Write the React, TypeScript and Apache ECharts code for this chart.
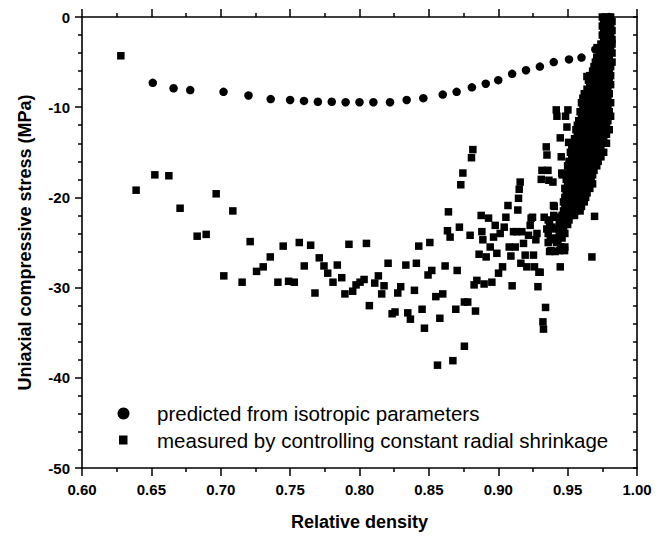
import React, { useEffect, useRef } from "react";
import * as echarts from "echarts";

// Predicted from isotropic parameters (relative density, stress MPa)
const predicted: number[][] = [
  [0.651, -7.3], [0.666, -7.9], [0.678, -8.1], [0.702, -8.3], [0.720, -8.7],
  [0.736, -9.1], [0.750, -9.2], [0.760, -9.3], [0.770, -9.4], [0.780, -9.4],
  [0.790, -9.45], [0.800, -9.45], [0.810, -9.45], [0.822, -9.45], [0.834, -9.2],
  [0.846, -9.0], [0.860, -8.6], [0.870, -8.3], [0.881, -7.8], [0.891, -7.4],
  [0.900, -7.0], [0.910, -6.3], [0.920, -5.9], [0.930, -5.5], [0.940, -5.0],
  [0.951, -4.7], [0.960, -4.5], [0.970, -3.6], [0.977, -1.8], [0.980, 0],
];

// Measured by controlling constant radial shrinkage: scattered points
const measuredScatter: number[][] = [
  [0.628, -4.3], [0.639, -19.2], [0.6525, -17.5], [0.6626, -17.6], [0.6707, -21.2],
  [0.6967, -19.6], [0.683, -24.3], [0.6895, -24.1], [0.7087, -21.5], [0.7022, -28.7],
  [0.7154, -29.4], [0.7212, -24.9], [0.7258, -28.2], [0.7306, -27.7], [0.7357, -26.6],
  [0.7412, -29.4], [0.745, -25.4], [0.7489, -29.3], [0.753, -29.4], [0.7566, -25.0],
  [0.7602, -27.6], [0.7648, -25.3], [0.7679, -30.6], [0.771, -26.7], [0.7744, -27.6],
  [0.7771, -28.4], [0.7809, -29.4], [0.784, -27.5], [0.7872, -28.9], [0.7895, -30.7],
  [0.7924, -25.2], [0.7951, -30.4], [0.7975, -29.7], [0.8004, -29.4], [0.8033, -29.1],
  [0.805, -25.1], [0.8071, -32.0], [0.811, -29.5], [0.8136, -28.7], [0.816, -30.7],
  [0.8177, -29.8], [0.8206, -27.3], [0.8235, -32.9], [0.8256, -32.7], [0.8276, -30.6],
  [0.8297, -29.9], [0.8334, -27.5], [0.8348, -32.8], [0.8367, -33.5], [0.8396, -30.3],
  [0.841, -27.3], [0.8427, -25.4], [0.8451, -32.4], [0.8468, -34.5], [0.8494, -28.6],
  [0.8507, -25.0], [0.8521, -28.1], [0.855, -31.0], [0.8562, -38.6], [0.8579, -33.4],
  [0.86, -30.7], [0.8617, -27.6], [0.8634, -23.7], [0.8641, -21.6], [0.8653, -24.4],
  [0.8673, -38.1], [0.8694, -32.4], [0.8704, -28.1], [0.872, -23.3], [0.873, -18.6],
  [0.8745, -17.3], [0.8756, -36.5], [0.8756, -31.6], [0.878, -31.6], [0.8797, -24.2],
  [0.8807, -15.6], [0.8817, -14.7], [0.8826, -29.7], [0.8836, -32.6], [0.8846, -29.2],
  [0.8862, -26.3], [0.8877, -22.0], [0.8882, -23.8], [0.8889, -24.7], [0.8898, -29.6],
  [0.8913, -26.6], [0.893, -22.3], [0.8942, -25.5], [0.8954, -29.4], [0.8966, -24.4],
  [0.8978, -23.1], [0.899, -26.2], [0.9002, -28.4], [0.9014, -24.0], [0.9031, -27.7],
  [0.9043, -23.3], [0.9055, -22.2], [0.907, -20.9], [0.9079, -25.5], [0.9091, -26.5],
  [0.91, -29.8], [0.911, -23.8], [0.9122, -25.5], [0.9134, -23.8], [0.9141, -21.4],
  [0.9146, -20.1], [0.9151, -19.1], [0.9158, -18.3], [0.9163, -27.3], [0.917, -23.8],
  [0.9182, -25.1], [0.9194, -26.4], [0.9206, -27.7], [0.9218, -24.2], [0.923, -23.1],
  [0.9237, -22.3], [0.9247, -22.2], [0.9254, -26.4], [0.9261, -27.7], [0.9271, -24.7],
  [0.9279, -24.0], [0.9286, -29.9], [0.9293, -28.3], [0.9302, -28.3], [0.931, -18.0],
  [0.9315, -17.0], [0.9322, -33.8], [0.9326, -34.6], [0.9331, -22.2], [0.9341, -32.2],
  [0.9346, -14.4], [0.9351, -15.3], [0.9358, -17.0], [0.9365, -18.1], [0.9375, -24.7],
  [0.938, -25.9], [0.9387, -23.3], [0.9394, -18.3], [0.9398, -20.9], [0.9404, -21.0],
  [0.9411, -22.2], [0.9418, -10.3], [0.9423, -11.0], [0.943, -24.7], [0.944, -25.9],
  [0.9447, -27.7], [0.9447, -13.4], [0.9454, -15.5], [0.9458, -17.3], [0.9461, -17.5],
  [0.9471, -23.3], [0.9478, -25.9], [0.9485, -11.0], [0.9495, -12.2], [0.9502, -10.3],
  [0.9507, -13.9], [0.9639, -6.6], [0.9663, -7.0], [0.9712, -3.4], [0.9675, -26.6],
  [0.9694, -22.1],
];

// Measured: dense column near full density, read row by row as [stress, density, density, ...]
const measuredBand: number[][] = [
  [0, 0.975, 0.978, 0.981],
  [-0.5, 0.976, 0.979, 0.982],
  [-1, 0.975, 0.978, 0.981],
  [-1.5, 0.976, 0.979, 0.982],
  [-2, 0.975, 0.978, 0.981],
  [-2.5, 0.976, 0.979, 0.982],
  [-3, 0.974, 0.977, 0.980, 0.982],
  [-3.5, 0.972, 0.975, 0.978, 0.981],
  [-4, 0.973, 0.976, 0.979, 0.982],
  [-4.5, 0.971, 0.974, 0.977, 0.980],
  [-5, 0.970, 0.973, 0.976, 0.979, 0.982],
  [-5.5, 0.969, 0.972, 0.975, 0.978, 0.981],
  [-6, 0.968, 0.971, 0.974, 0.977, 0.980],
  [-6.5, 0.966, 0.969, 0.972, 0.975, 0.978, 0.981],
  [-7, 0.965, 0.968, 0.971, 0.974, 0.977, 0.980],
  [-7.5, 0.966, 0.969, 0.972, 0.975, 0.978, 0.981],
  [-8, 0.964, 0.967, 0.970, 0.973, 0.976, 0.979],
  [-8.5, 0.962, 0.965, 0.968, 0.971, 0.974, 0.977, 0.980],
  [-9, 0.961, 0.964, 0.967, 0.970, 0.973, 0.976, 0.979],
  [-9.5, 0.960, 0.963, 0.966, 0.969, 0.972, 0.975, 0.978, 0.981],
  [-10, 0.961, 0.964, 0.967, 0.970, 0.973, 0.976, 0.979],
  [-10.5, 0.959, 0.962, 0.965, 0.968, 0.971, 0.974, 0.977, 0.980],
  [-11, 0.960, 0.963, 0.966, 0.969, 0.972, 0.975, 0.978, 0.981],
  [-11.5, 0.958, 0.961, 0.964, 0.967, 0.970, 0.973, 0.976, 0.979],
  [-12, 0.957, 0.960, 0.963, 0.966, 0.969, 0.972, 0.975, 0.978],
  [-12.5, 0.956, 0.959, 0.962, 0.965, 0.968, 0.971, 0.974, 0.977, 0.980],
  [-13, 0.957, 0.960, 0.963, 0.966, 0.969, 0.972, 0.975, 0.978],
  [-13.5, 0.955, 0.958, 0.961, 0.964, 0.967, 0.970, 0.973, 0.976],
  [-14, 0.954, 0.957, 0.960, 0.963, 0.966, 0.969, 0.972, 0.975, 0.978],
  [-14.5, 0.953, 0.956, 0.959, 0.962, 0.965, 0.968, 0.971, 0.974],
  [-15, 0.952, 0.955, 0.958, 0.961, 0.964, 0.967, 0.970, 0.973, 0.976],
  [-15.5, 0.953, 0.956, 0.959, 0.962, 0.965, 0.968, 0.971, 0.974],
  [-16, 0.951, 0.954, 0.957, 0.960, 0.963, 0.966, 0.969, 0.972],
  [-16.5, 0.950, 0.953, 0.956, 0.959, 0.962, 0.965, 0.968, 0.971],
  [-17, 0.951, 0.954, 0.957, 0.960, 0.963, 0.966, 0.969],
  [-17.5, 0.950, 0.953, 0.956, 0.959, 0.962, 0.965, 0.968],
  [-18, 0.949, 0.952, 0.955, 0.958, 0.961, 0.964, 0.967],
  [-18.5, 0.950, 0.953, 0.956, 0.959, 0.962, 0.965, 0.968],
  [-19, 0.948, 0.951, 0.954, 0.957, 0.960, 0.963, 0.966],
  [-19.5, 0.949, 0.952, 0.955, 0.958, 0.961, 0.964],
  [-20, 0.948, 0.951, 0.954, 0.957, 0.960, 0.963],
  [-20.5, 0.947, 0.950, 0.953, 0.956, 0.959, 0.962],
  [-21, 0.948, 0.951, 0.954, 0.957, 0.960],
  [-21.5, 0.947, 0.950, 0.953, 0.956, 0.959],
  [-22, 0.940, 0.946, 0.949, 0.952, 0.955],
  [-22.5, 0.936, 0.945, 0.948, 0.951],
  [-23, 0.937, 0.944, 0.947, 0.950],
  [-23.5, 0.935, 0.941, 0.946],
  [-24, 0.936, 0.944, 0.948],
  [-24.5, 0.940, 0.946],
  [-25, 0.936, 0.942],
  [-25.5, 0.945, 0.948],
  [-26, 0.937, 0.941],
];

const xTicks = { min: 0.6, max: 1.0, interval: 0.05 };
const yTicks = { min: -50, max: 0, interval: 10 };

const legendLabels = [
  "predicted from isotropic parameters",
  "measured by controlling constant radial shrinkage",
];

const FONT = '"Liberation Sans", Arial, Helvetica, sans-serif';
const GRID = { left: 82, right: 26, top: 17, bottom: 68 };

function lineAxis() {
  return { show: true, onZero: false, lineStyle: { color: "#000000", width: 1.6 } };
}
function ticks(inside: boolean, length: number) {
  return { show: true, inside, length, lineStyle: { color: "#000000", width: 1.5 } };
}
function minor(split: number, length: number) {
  return { show: true, splitNumber: split, length, lineStyle: { color: "#000000", width: 1.5 } };
}

// Frame-only axes (lines and ticks), shared by the overlay instance
function frameAxes() {
  return {
    xAxis: [
      { type: "value", position: "bottom", ...xTicks, axisLine: lineAxis(), axisTick: ticks(false, 8), minorTick: minor(2, 4), splitLine: { show: false }, axisLabel: { show: false } },
      { type: "value", position: "top", ...xTicks, axisLine: lineAxis(), axisTick: ticks(false, 8), minorTick: minor(2, 4), splitLine: { show: false }, axisLabel: { show: false } },
    ],
    yAxis: [
      { type: "value", position: "left", ...yTicks, axisLine: lineAxis(), axisTick: ticks(false, 7), minorTick: minor(5, 4), splitLine: { show: false }, axisLabel: { show: false } },
      { type: "value", position: "right", ...yTicks, axisLine: lineAxis(), axisTick: ticks(true, 4), minorTick: minor(5, 4), splitLine: { show: false }, axisLabel: { show: false } },
    ],
  };
}

export default function App() {
  const baseRef = useRef<HTMLDivElement>(null);
  const frameRef = useRef<HTMLDivElement>(null);

  useEffect(() => {
    if (!baseRef.current || !frameRef.current) return;

    // Overlay instance: axis frame and ticks only (no data)
    const frame = echarts.init(frameRef.current, undefined, { renderer: "svg" });
    frame.setOption({
      animation: false,
      backgroundColor: "transparent",
      grid: { ...GRID },
      ...frameAxes(),
      series: [{ type: "scatter", data: [], silent: true }],
    });

    // Main instance: data, tick labels, axis titles, legend
    const chart = echarts.init(baseRef.current, undefined, { renderer: "svg" });
    const bandData: number[][] = [];
    measuredBand.forEach((row) => {
      for (let i = 1; i < row.length; i++) bandData.push([row[i], row[0]]);
    });

    chart.setOption({
      animation: false,
      backgroundColor: "transparent",
      grid: { ...GRID },
      xAxis: [
        {
          type: "value",
          position: "bottom",
          ...xTicks,
          axisLine: { show: false },
          axisTick: { show: false },
          splitLine: { show: false },
          axisLabel: {
            color: "#000",
            fontFamily: FONT,
            fontWeight: "bold",
            fontSize: 15,
            margin: 14,
            formatter: (v: number) => v.toFixed(2),
          },
          name: "Relative density",
          nameLocation: "middle",
          nameGap: 45,
          nameTextStyle: { color: "#000", fontFamily: FONT, fontWeight: "bold", fontSize: 18 },
        },
      ],
      yAxis: [
        {
          type: "value",
          position: "left",
          ...yTicks,
          axisLine: { show: false },
          axisTick: { show: false },
          splitLine: { show: false },
          axisLabel: { color: "#000", fontFamily: FONT, fontWeight: "bold", fontSize: 15, margin: 12 },
          name: "Uniaxial compressive stress (MPa)",
          nameLocation: "middle",
          nameRotate: 90,
          nameGap: 48,
          nameTextStyle: { color: "#000", fontFamily: FONT, fontWeight: "bold", fontSize: 18 },
        },
      ],
      series: [
        { type: "scatter", symbol: "rect", symbolSize: 7.5, itemStyle: { color: "#000000", opacity: 1 }, data: measuredScatter },
        { type: "scatter", symbol: "rect", symbolSize: 7.5, itemStyle: { color: "#000000", opacity: 1 }, data: bandData },
        { type: "scatter", symbol: "circle", symbolSize: 8.5, itemStyle: { color: "#000000", opacity: 1 }, data: predicted },
      ],
      graphic: [
        { type: "circle", shape: { cx: 123.5, cy: 413.5, r: 6 }, style: { fill: "#000" } },
        { type: "rect", shape: { x: 119, y: 435.5, width: 8.5, height: 9 }, style: { fill: "#000" } },
        {
          type: "text",
          x: 157,
          y: 413.5,
          style: { text: legendLabels[0], fill: "#000", font: `20.5px ${FONT}`, verticalAlign: "middle", align: "left" },
        },
        {
          type: "text",
          x: 157,
          y: 440,
          style: { text: legendLabels[1], fill: "#000", font: `20.5px ${FONT}`, verticalAlign: "middle", align: "left" },
        },
      ],
    });

    return () => {
      chart.dispose();
      frame.dispose();
    };
  }, []);

  return (
    <div style={{ position: "absolute", left: 0, top: 0, width: 663, height: 536, background: "#fff" }}>
      <div ref={baseRef} style={{ position: "absolute", left: 0, top: 0, width: 663, height: 536 }} />
      <div
        ref={frameRef}
        style={{ position: "absolute", left: 0, top: 0, width: 663, height: 536, pointerEvents: "none" }}
      />
    </div>
  );
}
